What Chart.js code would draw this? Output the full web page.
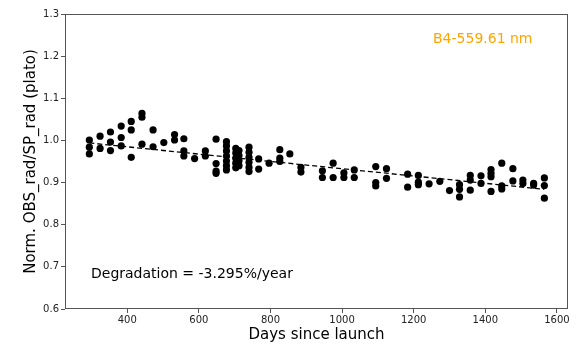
<!DOCTYPE html>
<html>
<head>
<meta charset="utf-8">
<script src="https://cdn.jsdelivr.net/npm/chart.js@4/dist/chart.umd.min.js"></script>
<style>
html,body{margin:0;padding:0;background:#fff;}
canvas{display:block;}
</style>
</head>
<body>
<canvas id="c" width="577" height="347"></canvas>
<script>
// ---- data ----
const days = [
  294,294,294, 324,324, 353,353,353, 383,383,383, 411,411,411, 441,441,441,
  472,472, 502, 532,532, 558,558,558, 588, 618,618, 648,648,648,648,
  677,677,677,677,677,677,677, 703,703,703,703,703, 712,712,712,712,
  740,740,740,740,740,740, 767,767, 796, 826,826,826, 854,
  885,885, 945,945, 975,975, 1005,1005, 1034,1034, 1094,1094,1094, 1124,1124,
  1183,1183, 1213,1213,1213, 1243, 1273, 1300, 1328,1328,1328, 1358,1358,1358,
  1388,1388, 1416,1416,1416,1416, 1446,1446,1446, 1477,1477, 1505,1505,
  1535,1535, 1565,1565,1565
];
const normRad = [
  1.001,0.984,0.968, 1.010,0.981, 1.020,0.996,0.976, 1.034,1.007,0.987, 1.045,1.025,0.960, 1.064,1.055,0.991,
  1.025,0.985, 0.995, 1.014,1.001, 1.004,0.975,0.963, 0.957, 0.975,0.963, 1.003,0.945,0.927,0.922,
  0.997,0.987,0.975,0.963,0.951,0.940,0.930, 0.981,0.970,0.958,0.946,0.935, 0.976,0.964,0.952,0.940,
  0.984,0.972,0.960,0.948,0.936,0.926, 0.956,0.932, 0.946, 0.978,0.958,0.950, 0.968,
  0.936,0.925, 0.928,0.912, 0.946,0.912, 0.923,0.912, 0.930,0.912, 0.938,0.900,0.892, 0.933,0.910,
  0.920,0.889, 0.917,0.901,0.895, 0.897, 0.903, 0.881, 0.895,0.884,0.866, 0.917,0.906,0.882,
  0.916,0.898, 0.931,0.922,0.914,0.879, 0.946,0.892,0.885, 0.933,0.904, 0.906,0.898,
  0.898,0.894, 0.911,0.893,0.863
];
const fitDays = [294, 1565];
const fitValues = [0.994, 0.884];
const xTicks = [400, 600, 800, 1000, 1200, 1400, 1600];
const yTicks = [0.6, 0.7, 0.8, 0.9, 1.0, 1.1, 1.2, 1.3];
const bandLabel = 'B4-559.61 nm';
const degradationLabel = 'Degradation = -3.295%/year';

const FONT = 'DejaVu Sans';

const framePlugin = {
  id: 'frame',
  afterDraw(chart) {
    const {ctx, chartArea: a} = chart;
    ctx.save();
    ctx.strokeStyle = '#555';
    ctx.lineWidth = 1;
    ctx.strokeRect(a.left + 0.5, a.top + 0.5, a.right - a.left - 1, a.bottom - a.top - 1);
    ctx.textBaseline = 'middle';
    ctx.textAlign = 'left';
    ctx.font = '14px "' + FONT + '"';
    ctx.fillStyle = '#000';
    ctx.fillText(degradationLabel, 91, 274);
    ctx.fillStyle = '#FFA500';
    ctx.fillText(bandLabel, 433, 39);
    ctx.restore();
  }
};

new Chart(document.getElementById('c'), {
  type: 'scatter',
  data: {
    datasets: [
      {
        type: 'line',
        data: fitDays.map((d, i) => ({x: d, y: fitValues[i]})),
        borderColor: '#000',
        borderWidth: 1.3,
        borderDash: [5, 3],
        pointRadius: 0,
        fill: false,
        order: 0
      },
      {
        data: days.map((d, i) => ({x: d, y: normRad[i]})),
        backgroundColor: '#000',
        borderColor: '#000',
        pointRadius: 3.6,
        borderWidth: 0,
        order: 1
      }
    ]
  },
  plugins: [framePlugin],
  options: {
    responsive: false,
    devicePixelRatio: 1,
    animation: false,
    layout: {padding: {top: 14, right: 9, left: 0, bottom: 0}},
    plugins: {legend: {display: false}, tooltip: {enabled: false}},
    scales: {
      x: {
        type: 'linear',
        min: 226,
        max: 1631,
        afterBuildTicks(scale) { scale.ticks = xTicks.map(v => ({value: v})); },
        afterFit(scale) { scale.height = 38; },
        grid: {drawOnChartArea: false, tickLength: 4, color: '#555', tickWidth: 1},
        border: {display: false},
        ticks: {
          color: '#222',
          padding: 1,
          maxRotation: 0,
          font: {family: FONT, size: 10},
          callback: v => String(v)
        },
        title: {
          display: true,
          text: 'Days since launch',
          color: '#000',
          font: {family: FONT, size: 15},
          padding: {top: 0, bottom: 3}
        }
      },
      y: {
        type: 'linear',
        min: 0.6,
        max: 1.3,
        afterBuildTicks(scale) { scale.ticks = yTicks.map(v => ({value: v})); },
        afterFit(scale) { scale.width = 65; },
        grid: {drawOnChartArea: false, tickLength: 4, color: '#555', tickWidth: 1},
        border: {display: false},
        ticks: {
          color: '#222',
          padding: 2,
          font: {family: FONT, size: 10},
          callback: v => Number(v).toFixed(1)
        },
        title: {
          display: true,
          text: 'Norm. OBS_rad/SP_rad (plato)',
          color: '#000',
          font: {family: FONT, size: 15},
          padding: {top: 22, bottom: 0}
        }
      }
    }
  }
});
</script>
</body>
</html>
